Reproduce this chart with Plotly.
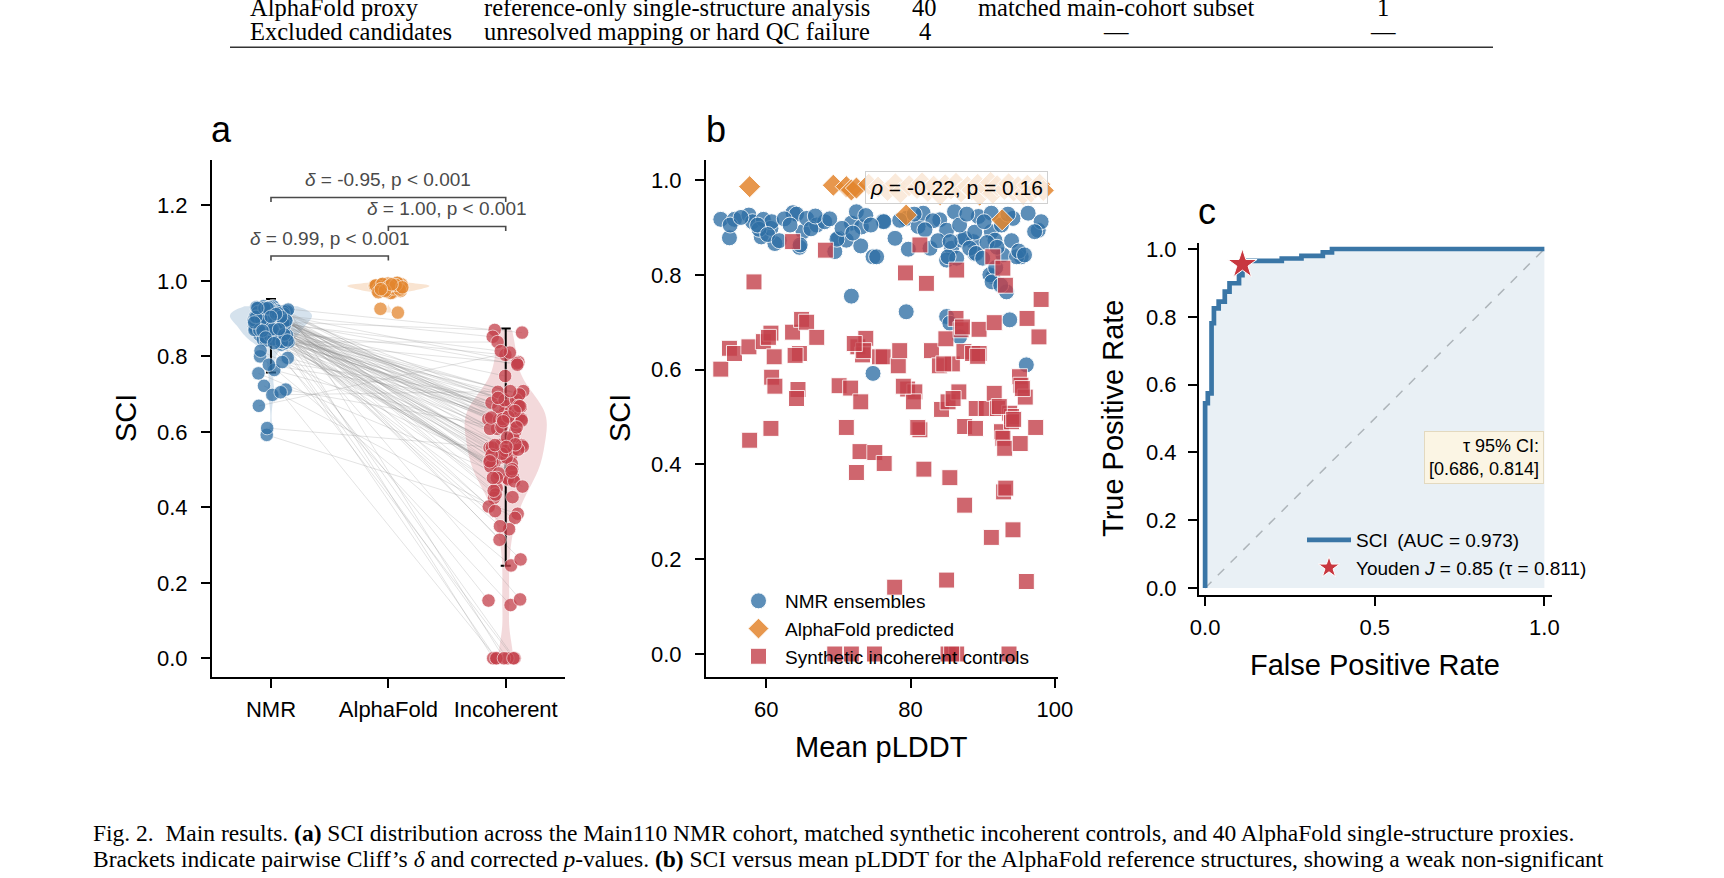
import plotly.graph_objects as go

W, H = 1724, 878
FONT = "Liberation Sans, Arial, Helvetica, sans-serif"
SERIF = "Liberation Serif, Times New Roman, serif"
BLUE = "#2f6fa5"
ORANGE = "#e3862e"
RED = "#c4404a"

# ---------------- data ----------------
categories = ["NMR", "AlphaFold", "Incoherent"]

nmr_plddt = [53.7, 55.6, 54.9, 57.6, 58.1, 59.6, 59.3, 60.65, 60.75, 61.2, 63.7, 64.2, 65.1, 64.6, 65.6,
             67.0, 68.1, 69.5, 70.0, 71.1, 71.8, 72.5, 73.2, 73.1, 71.8, 74.8, 74.8, 75.3, 76.2, 77.85,
             79.4, 81.05, 81.75, 82.7, 84.05, 85.0, 86.1, 85.7, 85.0, 87.1, 88.7, 89.4, 88.9, 86.4, 91.2,
             91.2, 91.7, 92.8, 91.4, 93.3, 94.2, 95.35, 96.3, 97.7, 98.1, 79.4, 85.0, 85.45, 86.8, 93.75,
             96.05, 59.0, 64.7, 69.8, 76.3, 79.7, 83.1, 85.2, 87.5, 88.2, 89.1, 91.0, 94.7, 97.2,
             55.0, 56.5, 58.8, 60.2, 61.8, 62.5, 63.3, 66.2, 66.8, 68.8, 70.5, 72.0, 73.8, 74.5, 78.5,
             80.5, 82.0, 83.8, 85.5, 86.8, 87.8, 88.9, 90.2, 90.6, 92.0, 92.6, 93.5, 94.0, 95.0, 95.8,
             90.0, 91.8, 91.3, 92.5]
nmr_sci = [0.917, 0.917, 0.878, 0.926, 0.912, 0.917, 0.880, 0.898, 0.912, 0.866, 0.931, 0.928, 0.891, 0.858, 0.919,
           0.905, 0.912, 0.849, 0.877, 0.873, 0.909, 0.933, 0.901, 0.861, 0.755, 0.838, 0.592, 0.838, 0.913, 0.877,
           0.919, 0.902, 0.930, 0.856, 0.916, 0.894, 0.933, 0.856, 0.831, 0.873, 0.870, 0.923, 0.845, 0.835, 0.930,
           0.891, 0.873, 0.842, 0.796, 0.764, 0.919, 0.838, 0.930, 0.894, 0.912, 0.722, 0.712, 0.698, 0.669, 0.705,
           0.610, 0.896, 0.863, 0.875, 0.912, 0.854, 0.914, 0.838, 0.877, 0.856, 0.845, 0.800, 0.838, 0.891,
           0.905, 0.921, 0.905, 0.885, 0.872, 0.918, 0.905, 0.897, 0.924, 0.918, 0.898, 0.888, 0.925, 0.905, 0.915,
           0.928, 0.895, 0.872, 0.870, 0.905, 0.928, 0.890, 0.912, 0.868, 0.858, 0.905, 0.928, 0.872, 0.850, 0.842,
           0.835, 0.815, 0.785, 0.778]

inc_plddt = [53.7, 54.9, 55.6, 57.6, 57.7, 58.3, 59.6, 60.65, 60.75, 61.1, 61.2, 60.65,
             63.65, 63.65, 64.6, 64.4, 64.2, 64.9, 65.6, 67.0, 68.2, 69.5, 70.1, 71.7,
             71.1, 71.8, 72.5, 72.7, 73.1, 73.0, 73.35, 73.8, 75.0, 75.05, 75.7, 76.2,
             76.35, 77.8, 78.3, 78.5, 79.3, 79.6, 80.6, 80.4, 81.3, 81.3, 81.85, 82.2,
             82.9, 84.0, 84.3, 84.9, 85.0, 85.2, 85.2, 85.45, 85.8, 86.3, 86.4, 86.4,
             86.7, 87.0, 87.4, 87.5, 87.5, 88.6, 89.0, 89.1, 89.5, 89.5, 90.5, 91.2,
             91.4, 91.6, 91.6, 92.05, 92.6, 92.8, 92.8, 92.9, 93.05, 93.15, 93.65, 93.75,
             94.0, 94.0, 94.2, 95.1, 95.2, 95.3, 95.9, 96.05, 96.15, 97.35, 97.8, 98.1,
             85.9, 85.7, 93.2, 64.0, 73.5, 79.0, 84.6, 89.3, 92.3, 94.3, 87.2, 60.3, 95.5, 81.0, 72.2]
inc_sci = [0.601, 0.645, 0.634, 0.648, 0.451, 0.785, 0.659, 0.677, 0.584, 0.627, 0.565, 0.476,
           0.870, 0.679, 0.634, 0.558, 0.539, 0.706, 0.700, 0.668, 0.852, 0.0, 0.566, 0.561,
           0.478, 0.0, 0.383, 0.648, 0.532, 0.427, 0.631, 0.666, 0.0, 0.425, 0.627, 0.627,
           0.402, 0.141, 0.608, 0.640, 0.804, 0.559, 0.553, 0.532, 0.863, 0.473, 0.390, 0.782,
           0.640, 0.608, 0.516, 0.665, 0.156, 0.532, 0.0, 0.372, 0.612, 0.708, 0.810, 0.0,
           0.553, 0.684, 0.638, 0.480, 0.314, 0.634, 0.476, 0.518, 0.685, 0.634, 0.518, 0.246,
           0.838, 0.699, 0.550, 0.518, 0.469, 0.814, 0.455, 0.342, 0.434, 0.778, 0.0, 0.508,
           0.501, 0.490, 0.262, 0.585, 0.444, 0.567, 0.542, 0.153, 0.708, 0.478, 0.669, 0.748,
           0.539, 0.0, 0.350, 0.630, 0.640, 0.565, 0.612, 0.628, 0.522, 0.495, 0.690, 0.668, 0.560, 0.478, 0.655]

af_plddt = [57.7, 69.3, 71.1, 71.8, 72.5, 79.4, 92.7,
            74.2, 75.5, 76.8, 77.9, 78.6, 79.8, 80.9, 81.6, 82.4, 83.2, 84.1, 84.8, 85.6, 86.3, 87.0,
            87.9, 88.5, 89.3, 89.6, 90.4, 91.1, 91.4, 92.0, 93.0, 93.6, 94.3, 94.9, 95.6, 96.2, 96.7,
            97.3, 97.9, 98.4]
af_sci = [0.986, 0.989, 0.986, 0.979, 0.983, 0.926, 0.916,
          0.991, 0.985, 0.978, 0.992, 0.973, 0.988, 0.982, 0.994, 0.976, 0.987, 0.969, 0.990, 0.981, 0.993, 0.975,
          0.986, 0.979, 0.991, 0.968, 0.984, 0.995, 0.972, 0.988, 0.980, 0.992, 0.977, 0.986, 0.970, 0.989, 0.974,
          0.983, 0.991, 0.978]

# interval bars shown on panel a (low, high) per category
interval_lo = [0.757, 0.962, 0.245]
interval_hi = [0.952, 0.995, 0.874]

# pairwise comparisons (category i, category j, label)
comparisons = [(0, 1, "<i>δ</i> = 0.99, p &lt; 0.001"),
               (1, 2, "<i>δ</i> = 1.00, p &lt; 0.001"),
               (0, 2, "<i>δ</i> = -0.95, p &lt; 0.001")]
comparison_levels = [1.066, 1.144, 1.221]

corr_text = "<i>ρ</i> = -0.22, p = 0.16"

roc_fpr = [0.0, 0.0, 0.008, 0.008, 0.019, 0.019, 0.026, 0.026, 0.040, 0.040, 0.058, 0.058, 0.072, 0.072,
           0.100, 0.100, 0.110, 0.110, 0.226, 0.226, 0.284, 0.284, 0.347, 0.347, 0.374, 0.374, 1.0]
roc_tpr = [0.0, 0.545, 0.545, 0.574, 0.574, 0.781, 0.781, 0.825, 0.825, 0.845, 0.845, 0.874, 0.874, 0.899,
           0.899, 0.923, 0.923, 0.965, 0.965, 0.972, 0.972, 0.980, 0.980, 0.990, 0.990, 1.0, 1.0]
youden_fpr = [0.11]
youden_tpr = [0.955]
auc_label = "SCI\u2002(AUC = 0.973)"
youden_label = "Youden <i>J</i> = 0.85 (τ = 0.811)"
ci_text = "τ 95% CI:<br>[0.686, 0.814]"

table_rows = [
    ["AlphaFold proxy", "reference-only single-structure analysis", "40", "matched main-cohort subset", "1"],
    ["Excluded candidates", "unresolved mapping or hard QC failure", "4", "—", "—"],
]
caption_lines = [
    "Fig. 2.\u00a0\u00a0Main results. <b>(a)</b> SCI distribution across the Main110 NMR cohort, matched synthetic incoherent controls, and 40 AlphaFold single-structure proxies.",
    "Brackets indicate pairwise Cliff’s <i>δ</i> and corrected <i>p</i>-values. <b>(b)</b> SCI versus mean pLDDT for the AlphaFold reference structures, showing a weak non-significant",
]


# ---------------- helpers ----------------
def px(x):
    return x / W


def py(y):
    return 1 - y / H


def jitter(n, width=0.15, phase=0.31):
    return [width * (2 * ((i * 0.6180339887 + phase) % 1.0) - 1) for i in range(n)]


fig = go.Figure()

# ---------------- panel a ----------------
vfill = ["rgba(47,111,165,0.2)", "rgba(227,134,46,0.22)", "rgba(196,64,74,0.2)"]
for k, vals in enumerate([nmr_sci, af_sci, inc_sci]):
    fig.add_trace(go.Violin(y=vals, x0=k, width=0.7, scalemode="width", spanmode="hard",
                            fillcolor=vfill[k], line=dict(color="rgba(0,0,0,0)", width=0),
                            points=False, box_visible=False, meanline_visible=False,
                            showlegend=False, hoverinfo="skip", xaxis="x", yaxis="y"))

jn = jitter(len(nmr_sci), 0.15, 0.31)
ji = jitter(len(inc_sci), 0.15, 0.77)
ja = jitter(len(af_sci), 0.12, 0.13)
lx, ly = [], []
for i in range(min(len(nmr_sci), len(inc_sci))):
    lx += [0 + jn[i], 2 + ji[i], None]
    ly += [nmr_sci[i], inc_sci[i], None]
fig.add_trace(go.Scatter(x=lx, y=ly, mode="lines", line=dict(color="rgba(140,140,140,0.3)", width=0.8),
                         showlegend=False, hoverinfo="skip", xaxis="x", yaxis="y"))

for k in range(3):
    fig.add_trace(go.Scatter(x=[k], y=[interval_lo[k]], mode="markers", marker=dict(opacity=0, size=1),
                             error_y=dict(type="data", symmetric=False,
                                          array=[interval_hi[k] - interval_lo[k]], arrayminus=[0],
                                          color="black", thickness=2, width=5),
                             showlegend=False, hoverinfo="skip", xaxis="x", yaxis="y"))

for k, (vals, jj, col) in enumerate([(nmr_sci, jn, BLUE), (af_sci, ja, ORANGE), (inc_sci, ji, RED)]):
    fig.add_trace(go.Scatter(x=[k + j for j in jj], y=vals, mode="markers",
                             marker=dict(size=13.5, color=col, opacity=0.75, line=dict(color="white", width=0.8)),
                             showlegend=False, hoverinfo="skip", xaxis="x", yaxis="y"))

# ---------------- panel b ----------------
fig.add_trace(go.Scatter(x=nmr_plddt, y=nmr_sci, mode="markers", name="NMR ensembles",
                         marker=dict(symbol="circle", size=16, color=BLUE, opacity=0.78,
                                     line=dict(color="white", width=1)),
                         legend="legend", xaxis="x2", yaxis="y2"))
fig.add_trace(go.Scatter(x=af_plddt, y=af_sci, mode="markers", name="AlphaFold predicted",
                         marker=dict(symbol="diamond", size=17, color=ORANGE, opacity=0.85,
                                     line=dict(color="white", width=1)),
                         legend="legend", xaxis="x2", yaxis="y2"))
fig.add_trace(go.Scatter(x=inc_plddt, y=inc_sci, mode="markers", name="Synthetic incoherent controls",
                         marker=dict(symbol="square", size=16, color=RED, opacity=0.8,
                                     line=dict(color="white", width=1)),
                         legend="legend", xaxis="x2", yaxis="y2"))

# ---------------- panel c ----------------
fig.add_trace(go.Scatter(x=roc_fpr, y=roc_tpr, mode="lines", fill="tozeroy",
                         fillcolor="rgba(58,118,166,0.11)", line=dict(width=0),
                         showlegend=False, hoverinfo="skip", xaxis="x3", yaxis="y3"))
fig.add_trace(go.Scatter(x=roc_fpr, y=roc_tpr, mode="lines", name=auc_label,
                         line=dict(color="#3a76a6", width=4.7),
                         legend="legend2", xaxis="x3", yaxis="y3"))
fig.add_trace(go.Scatter(x=youden_fpr, y=youden_tpr, mode="markers", name=youden_label,
                         marker=dict(symbol="star", size=22, color="#c8373f", line=dict(color="white", width=1)),
                         legend="legend2", xaxis="x3", yaxis="y3"))

shapes = [dict(type="line", xref="x3", yref="y3", x0=0, y0=0, x1=1, y1=1,
               line=dict(color="#bdbdbd", width=1.5, dash="dash"), layer="below")]

# comparison brackets
annotations = []
for (a, b, label), lev in zip(comparisons, comparison_levels):
    drop = 0.012
    shapes.append(dict(type="path", xref="x", yref="y",
                       path=f"M {a},{lev - drop} L {a},{lev} L {b},{lev} L {b},{lev - drop}",
                       line=dict(color="#4a4a4a", width=1.6)))
    annotations.append(dict(xref="x", yref="y", x=(a + b) / 2, y=lev + 0.047, text=label,
                            showarrow=False, xanchor="center", yanchor="middle",
                            font=dict(family=FONT, size=19, color="#4a4a4a")))

# table rule
shapes.append(dict(type="line", xref="paper", yref="paper", x0=px(230), x1=px(1493), y0=py(47.3), y1=py(47.3),
                   line=dict(color="#333333", width=1.6)))


def ax(standoff, **kw):
    d = dict(showline=True, linecolor="black", linewidth=2, ticks="outside", ticklen=9, tickwidth=1.6,
             tickcolor="black", showgrid=False, zeroline=False, automargin=False,
             ticklabelstandoff=standoff,
             tickfont=dict(family=FONT, size=22, color="black"))
    d.update(kw)
    return d


layout = dict(
    width=W, height=H, margin=dict(l=0, r=0, t=0, b=0),
    paper_bgcolor="white", plot_bgcolor="rgba(0,0,0,0)",
    font=dict(family=FONT, color="black"),
    violinmode="overlay",
    xaxis=ax(3, domain=[px(212), px(565)], range=[-0.5025, 2.505], tickvals=[0, 1, 2], ticktext=categories,
             anchor="y"),
    yaxis=ax(9, domain=[py(677), py(160)], range=[-0.0496, 1.3204], tickvals=[0, 0.2, 0.4, 0.6, 0.8, 1.0, 1.2],
             tickformat=".1f", anchor="x"),
    xaxis2=ax(3, domain=[px(706), px(1058)], range=[51.65, 100.44], tickvals=[60, 80, 100], anchor="y2"),
    yaxis2=ax(9, domain=[py(677), py(160)], range=[-0.0485, 1.0422], tickvals=[0, 0.2, 0.4, 0.6, 0.8, 1.0],
              tickformat=".1f", anchor="x2"),
    xaxis3=ax(3, domain=[px(1199), px(1551.5)], range=[-0.018, 1.021], tickvals=[0, 0.5, 1.0],
              tickformat=".1f", anchor="y3"),
    yaxis3=ax(7, domain=[py(595), py(242.7)], range=[-0.0206, 1.0186], tickvals=[0, 0.2, 0.4, 0.6, 0.8, 1.0],
              tickformat=".1f", anchor="x3"),
    legend=dict(x=px(732), y=py(582), xanchor="left", yanchor="top", bgcolor="rgba(0,0,0,0)",
                font=dict(family=FONT, size=19, color="black"), itemwidth=43, tracegroupgap=0,
                borderwidth=0),
    legend2=dict(x=px(1302), y=py(521), xanchor="left", yanchor="top", bgcolor="rgba(0,0,0,0)",
                 font=dict(family=FONT, size=19, color="black"), itemwidth=44, tracegroupgap=0,
                 borderwidth=0),
    shapes=shapes,
)

# correlation box (panel b)
annotations.append(dict(xref="x2", yref="y2", x=86.4, y=0.985, text=corr_text, showarrow=False,
                        xanchor="center", yanchor="middle", font=dict(family=FONT, size=21, color="black"),
                        bgcolor="rgba(255,255,255,0.8)", bordercolor="#d0d0d0", borderwidth=1, borderpad=4))
# CI box (panel c)
annotations.append(dict(xref="x3", yref="y3", x=1.0, y=0.385, text=ci_text, showarrow=False, align="right",
                        xanchor="right", yanchor="middle", font=dict(family=FONT, size=18, color="black"),
                        bgcolor="#fbf5e4", bordercolor="#e3d9bf", borderwidth=1, borderpad=4))

# axis titles
for txt, x, y, ang in [("SCI", 126, 418, -90), ("SCI", 620, 418, -90), ("Mean pLDDT", 881, 747, 0),
                       ("True Positive Rate", 1113, 419, -90), ("False Positive Rate", 1375, 665, 0)]:
    annotations.append(dict(xref="paper", yref="paper", x=px(x), y=py(y), text=txt, showarrow=False,
                            textangle=ang, xanchor="center", yanchor="middle",
                            font=dict(family=FONT, size=29, color="black")))
# panel letters
for txt, x, y in [("a", 222, 129), ("b", 716, 129), ("c", 1207, 212)]:
    annotations.append(dict(xref="paper", yref="paper", x=px(x), y=py(y), text=txt, showarrow=False,
                            xanchor="center", yanchor="middle", font=dict(family=FONT, size=36, color="black")))

# table rows
col_x = [248, 677, 925, 1116, 1383]
row_y = [7, 32]
for r, row in enumerate(table_rows):
    for c, cell in enumerate(row):
        annotations.append(dict(xref="paper", yref="paper", x=px(col_x[c]), y=py(row_y[r]), text=cell,
                                showarrow=False, xanchor="left" if c == 0 else "center", yanchor="middle",
                                font=dict(family=SERIF, size=24.5, color="black")))
# caption
for i, line in enumerate(caption_lines):
    annotations.append(dict(xref="paper", yref="paper", x=px(91), y=py(833 + 26 * i), text=line,
                            showarrow=False, xanchor="left", yanchor="middle",
                            font=dict(family=SERIF, size=23.5, color="black")))

layout["annotations"] = annotations
fig.update_layout(**layout)
fig.write_html("out.html")
